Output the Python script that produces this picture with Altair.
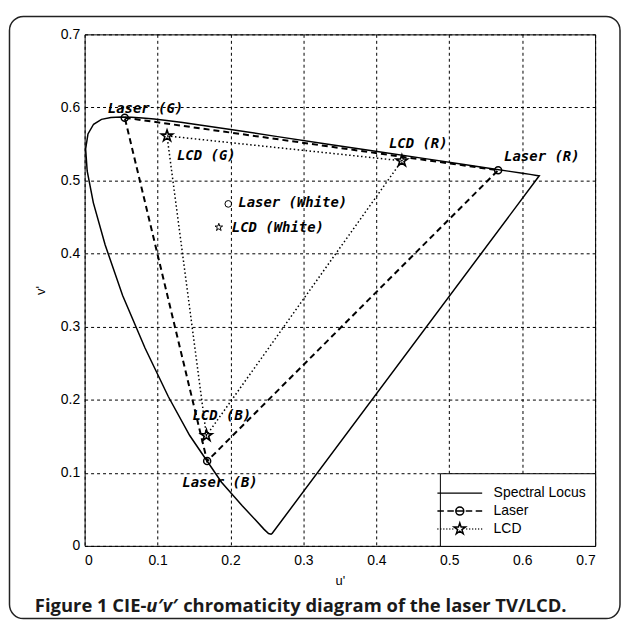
import altair as alt
import pandas as pd
import math

# ---------------- data ----------------
# CIE 1976 spectral locus, 380 nm -> 700 nm
locus_u = [0.2568, 0.2557, 0.2522, 0.2461, 0.2347, 0.2161, 0.1877, 0.1441, 0.1147,
           0.0828, 0.0521, 0.0282, 0.0119, 0.0035, 0.0014, 0.0046, 0.0123, 0.0231,
           0.0360, 0.0501, 0.0643, 0.0792, 0.0953, 0.1127, 0.1319, 0.1531, 0.2026,
           0.2623, 0.3315, 0.4035, 0.4692, 0.5203, 0.5565, 0.5830, 0.6005, 0.6109,
           0.6199, 0.6234]
locus_v = [0.0166, 0.0159, 0.0169, 0.0226, 0.0350, 0.0549, 0.0871, 0.1510, 0.2044,
           0.2708, 0.3427, 0.4117, 0.4698, 0.5131, 0.5432, 0.5638, 0.5770, 0.5837,
           0.5861, 0.5868, 0.5865, 0.5856, 0.5841, 0.5821, 0.5796, 0.5766, 0.5694,
           0.5604, 0.5501, 0.5393, 0.5296, 0.5219, 0.5165, 0.5125, 0.5099, 0.5084,
           0.5070, 0.5065]

laser_names = ["Laser (G)", "Laser (R)", "Laser (B)"]
laser_u = [0.055, 0.567, 0.168]
laser_v = [0.586, 0.514, 0.116]

lcd_names = ["LCD (G)", "LCD (R)", "LCD (B)"]
lcd_u = [0.113, 0.435, 0.167]
lcd_v = [0.561, 0.527, 0.151]

white_names = ["Laser (White)", "LCD (White)"]
white_u = [0.197, 0.184]
white_v = [0.468, 0.436]

legend_names = ["Spectral Locus", "Laser", "LCD"]
tick_values = [0, 0.1, 0.2, 0.3, 0.4, 0.5, 0.6, 0.7]

# ---------------- tables ----------------
def loop(us, vs):
    n = len(us)
    idx = list(range(n)) + [0]
    return pd.DataFrame({
        "i": list(range(n + 1)),
        "u": [us[k] for k in idx],
        "v": [vs[k] for k in idx],
    })

locus_df = loop(locus_u, locus_v)
laser_line = loop(laser_u, laser_v)
lcd_line = loop(lcd_u, lcd_v)
laser_pts = pd.DataFrame({"name": laser_names, "u": laser_u, "v": laser_v})
lcd_pts = pd.DataFrame({"name": lcd_names, "u": lcd_u, "v": lcd_v})
white_pts = pd.DataFrame({"name": white_names, "u": white_u, "v": white_v})
one = pd.DataFrame({"k": [0]})

# ---------------- symbols ----------------
def star(r=1.0):
    pts = []
    for k in range(10):
        ang = math.radians(-90 + 36 * k)
        rr = r if k % 2 == 0 else r * 0.382
        pts.append((rr * math.cos(ang), rr * math.sin(ang)))
    return "M" + "L".join(f"{x:.3f},{y:.3f}" for x, y in pts) + "Z"

def dots(a, b, step=0.3, seg=0.1):
    s, x = "", a
    while x + seg <= b + 1e-9:
        s += f"M{x:.2f},0L{x + seg:.2f},0"
        x += step
    return s

STAR = star(1.0)
sym_locus = "M-2.25,0L2.25,0"
sym_laser = ("M-2.25,0L-1.6,0M-1.25,0L-0.6,0M-0.4,0L0.4,0M0.6,0L1.25,0M1.6,0L2.25,0"
             "M-0.4,0A0.4,0.4 0 1,0 0.4,0A0.4,0.4 0 1,0 -0.4,0")
sym_lcd = dots(-2.25, -0.65) + dots(0.65, 2.3) + star(0.6)

# ---------------- encodings ----------------
xs = alt.Scale(domain=[0, 0.7], nice=False, zero=False)
ys = alt.Scale(domain=[0, 0.7], nice=False, zero=False)
X = alt.X("u:Q", scale=xs, title="u'",
          axis=alt.Axis(values=tick_values, format=".1~f", labelPadding=8, titlePadding=7))
Y = alt.Y("v:Q", scale=ys, title="v'",
          axis=alt.Axis(values=tick_values, format=".1~f", labelPadding=5, titlePadding=13))

frame = alt.Chart(one).mark_rect(
    fill="white", fillOpacity=0, stroke="#222222", strokeWidth=1.5, cornerRadius=14
).encode(x=alt.value(-75.5), x2=alt.value(538), y=alt.value(-18), y2=alt.value(587))

locus = alt.Chart(locus_df).mark_line(color="black", strokeWidth=1.5).encode(
    x=X, y=Y, order="i:O")
laser = alt.Chart(laser_line).mark_line(color="black", strokeWidth=2, strokeDash=[6, 4]).encode(
    x=X, y=Y, order="i:O")
lcd = alt.Chart(lcd_line).mark_line(color="black", strokeWidth=1.5, strokeDash=[1.5, 2.5]).encode(
    x=X, y=Y, order="i:O")

laser_m = alt.Chart(laser_pts).mark_point(
    shape="circle", size=50, filled=False, color="black", strokeWidth=1.5, opacity=1
).encode(x=X, y=Y)
lcd_m = alt.Chart(lcd_pts).mark_point(
    shape=STAR, size=144, filled=False, color="black", strokeWidth=1.6, opacity=1
).encode(x=X, y=Y)
white_c = alt.Chart(white_pts).transform_filter(alt.datum.name == "Laser (White)").mark_point(
    shape="circle", size=45, filled=False, color="black", strokeWidth=1, opacity=1
).encode(x=X, y=Y)
white_s = alt.Chart(white_pts).transform_filter(alt.datum.name == "LCD (White)").mark_point(
    shape=STAR, size=64, filled=False, color="black", strokeWidth=1, opacity=1
).encode(x=X, y=Y)

offsets = {
    "Laser (G)": (-17, -9), "Laser (R)": (6, -13), "Laser (B)": (-25, 22),
    "LCD (G)": (10, 20), "LCD (R)": (-13, -17), "LCD (B)": (-14, -20),
    "Laser (White)": (10, -1), "LCD (White)": (13, 1),
}
labels = []
for src, names in ((laser_pts, laser_names), (lcd_pts, lcd_names), (white_pts, white_names)):
    for n in names:
        dx, dy = offsets[n]
        labels.append(
            alt.Chart(src).transform_filter(alt.datum.name == n).mark_text(
                align="left", baseline="middle", dx=dx, dy=dy,
                font="DejaVu Sans Mono", fontSize=14, fontWeight="bold", fontStyle="italic",
                color="black"
            ).encode(x=X, y=Y, text="name:N")
        )

legend_layer = alt.Chart(pd.DataFrame({"series": legend_names})).mark_point(
    size=400, filled=False, color="black", opacity=0
).encode(
    shape=alt.Shape(
        "series:N",
        scale=alt.Scale(domain=legend_names, range=[sym_locus, sym_laser, sym_lcd]),
        legend=alt.Legend(
            title=None, orient="bottom-right", offset=0, padding=9,
            strokeColor="black", fillColor="white", cornerRadius=0,
            labelFont="Liberation Sans", labelFontSize=14, labelColor="black",
            labelOffset=23, symbolStrokeWidth=1.5, symbolStrokeColor="black",
            symbolOpacity=1, symbolSize=400, rowPadding=0,
            labelExpr="datum.label + '\u00a0\u00a0\u00a0'",
        ),
    )
)

cap_font = dict(font="Open Sans", fontSize=18.5, fontWeight="bold", align="left",
                baseline="alphabetic", color="#1a1a1a")
cap_x = -50
cap_y = 580
cap1 = alt.Chart(one).mark_text(text="Figure 1 CIE-", **cap_font).encode(
    x=alt.value(cap_x), y=alt.value(cap_y))
cap2 = alt.Chart(one).mark_text(text="u\u2032v\u2032", fontStyle="italic", **cap_font).encode(
    x=alt.value(cap_x + 112), y=alt.value(cap_y))
cap3 = alt.Chart(one).mark_text(text="chromaticity diagram of the laser TV/LCD.", **cap_font).encode(
    x=alt.value(cap_x + 149), y=alt.value(cap_y))

chart = alt.layer(
    frame, locus, laser, lcd, laser_m, lcd_m, white_c, white_s, *labels,
    legend_layer, cap1, cap2, cap3
).properties(
    width=513, height=514,
    padding={"left": 0, "top": 6, "right": 0, "bottom": 0},
).configure_view(
    stroke="black", strokeWidth=1
).configure_axis(
    grid=True, gridColor="black", gridDash=[3, 3], gridWidth=1, gridOpacity=1,
    domain=False, ticks=False,
    labelFont="Liberation Sans", labelFontSize=14, labelColor="black",
    titleFont="Liberation Sans", titleFontSize=13, titleFontWeight="normal", titleColor="black",
)

chart.save("out.html", embed_options={"renderer": "svg", "actions": False})
